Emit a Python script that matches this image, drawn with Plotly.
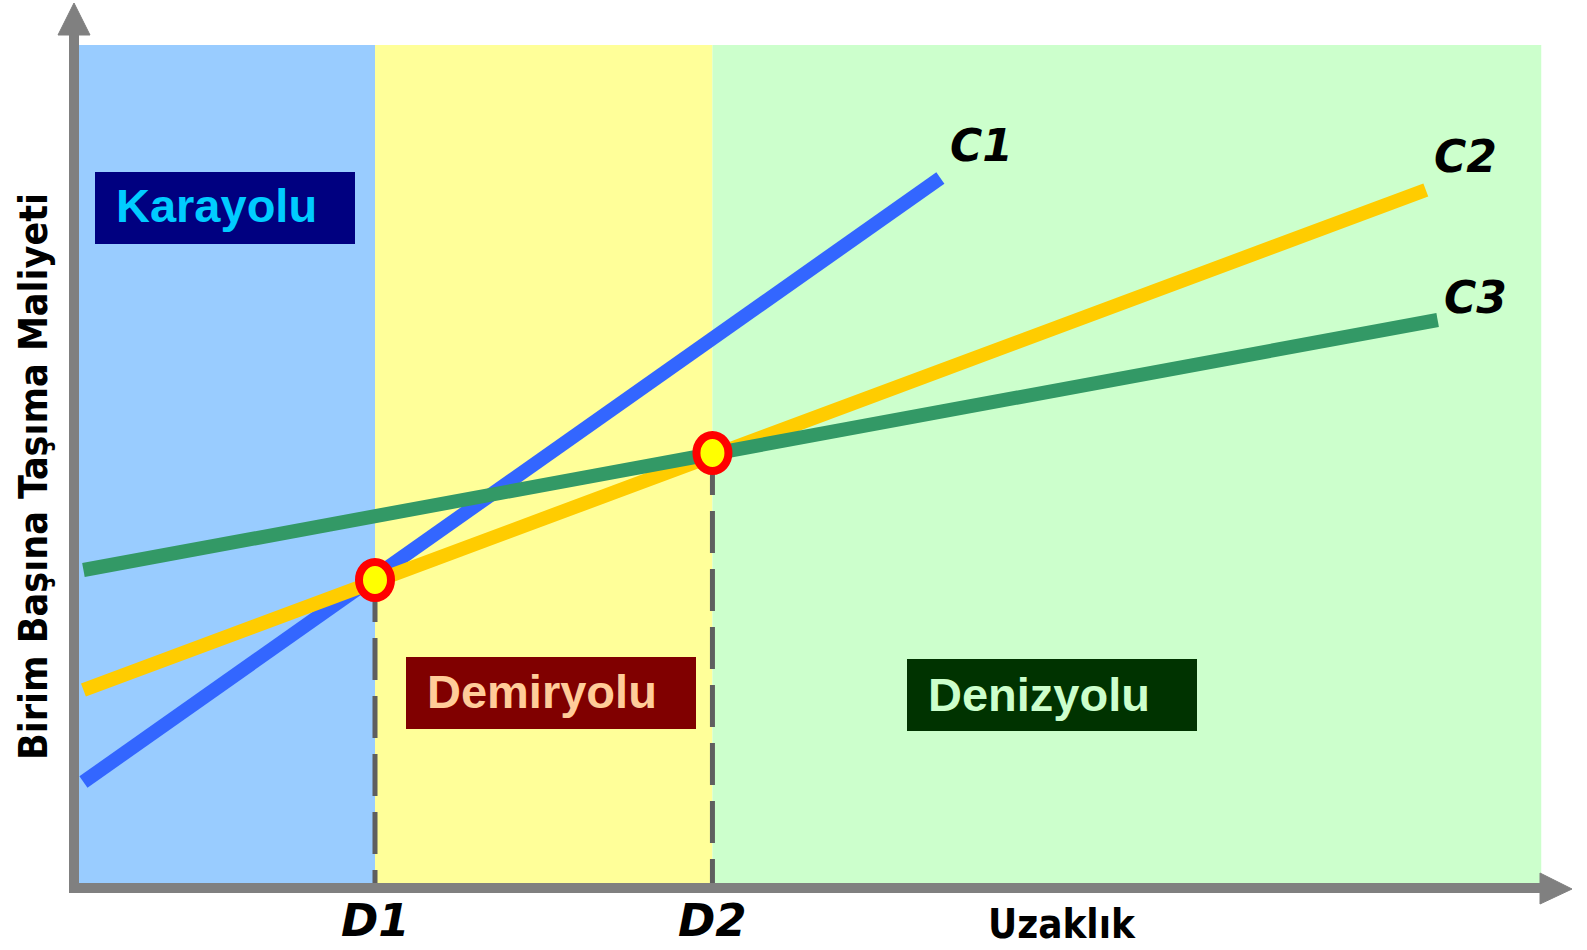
import plotly.graph_objects as go

# values (x = distance, y = unit transport cost)
c1_x = [0.15, 29.1]
c1_y = [10.1, 70.5]
c2_x = [0.15, 45.5]
c2_y = [19.3, 69.3]
c3_x = [0.15, 45.9]
c3_y = [31.3, 56.3]

curve_names = ["C1", "C2", "C3"]
break_names = ["D1", "D2"]
break_x = [10.0, 21.4]
break_y = [30.3, 43.0]

mode_names = ["Karayolu", "Demiryolu", "Denizyolu"]
x_end = 49.4   # right end of shaded area
y_top = 83.8   # top of shaded area

# pixel -> axis helpers for decorations (plot area covers the whole figure)
W, H = 1587, 950
X0, Y0, SX, SY = 79, 883, 29.6, 10.0


def dx(p):
    return (p - X0) / SX


def dy(p):
    return (Y0 - p) / SY


fig = go.Figure()

# regions
region_colors = ["#99CCFF", "#FFFF99", "#CCFFCC"]
edges = [0, break_x[0], break_x[1], x_end]
for i in range(3):
    fig.add_shape(type="rect", xref="x", yref="y", x0=edges[i], x1=edges[i + 1],
                  y0=0, y1=y_top, fillcolor=region_colors[i], line_width=0, layer="below")

# label boxes
boxes = [(95, 172, 355, 244, "#000080"), (406, 657, 696, 729, "#800000"),
         (907, 659, 1197, 731, "#003300")]
for x0, y0, x1, y1, col in boxes:
    fig.add_shape(type="rect", xref="x", yref="y", x0=dx(x0), x1=dx(x1),
                  y0=dy(y1), y1=dy(y0), fillcolor=col, line_width=0, layer="below")

# cost lines
line_colors = ["#3366FF", "#FFCC00", "#339966"]
for xs, ys, col, name in zip([c1_x, c2_x, c3_x], [c1_y, c2_y, c3_y], line_colors, curve_names):
    fig.add_trace(go.Scatter(x=xs, y=ys, mode="lines", name=name,
                             line=dict(color=col, width=14), hoverinfo="skip"))

# dashed drop lines
for bx, by in zip(break_x, break_y):
    fig.add_trace(go.Scatter(x=[bx, bx], y=[by, 0], mode="lines",
                             line=dict(color="#5F5F5F", width=5, dash="42px,16px"),
                             hoverinfo="skip"))

# axes with arrows
gray = "#808080"
axis_path = "M {},{} L {},{} L {},{}".format(dx(74), dy(34), dx(74), dy(888), dx(1541), dy(888))
fig.add_shape(type="path", xref="x", yref="y", path=axis_path,
              line=dict(color=gray, width=10), layer="above")
up_arrow = "M {},{} L {},{} L {},{} Z".format(dx(58), dy(35), dx(90), dy(35), dx(74), dy(3))
right_arrow = "M {},{} L {},{} L {},{} Z".format(dx(1540), dy(873), dx(1540), dy(904), dx(1572), dy(889))
for p in [up_arrow, right_arrow]:
    fig.add_shape(type="path", xref="x", yref="y", path=p, fillcolor=gray,
                  line=dict(color=gray, width=1), layer="above")

# intersection markers
for bx, by in zip(break_x, break_y):
    fig.add_shape(type="circle", xref="x", yref="y", xsizemode="pixel", ysizemode="pixel",
                  xanchor=bx, yanchor=by, x0=-16, x1=16, y0=-18, y1=18,
                  fillcolor="#FFFF00", line=dict(color="#FF0000", width=8), layer="above")

# region labels
label_font = "Liberation Sans, Arial, sans-serif"
label_pos = [(114, 205.5), (425, 691), (926, 694.5)]
label_colors = ["#00CCFF", "#FFCC99", "#CCFFCC"]
for name, (px, py), col in zip(mode_names, label_pos, label_colors):
    fig.add_annotation(x=dx(px), y=dy(py), xref="x", yref="y", text="<b>" + name + "</b>",
                       showarrow=False, xanchor="left", yanchor="middle",
                       font=dict(family=label_font, size=47, color=col))

# curve labels
curve_pos = [(981, 145), (1465, 156), (1475, 297.5)]
for name, (px, py) in zip(curve_names, curve_pos):
    fig.add_annotation(x=dx(px), y=dy(py), xref="x", yref="y", text="<b><i>" + name + "</i></b>",
                       showarrow=False, xanchor="center", yanchor="middle",
                       font=dict(family="DejaVu Sans, Verdana", size=44, color="black"))

# D1 / D2 labels under the axis
for name, bx in zip(break_names, break_x):
    fig.add_annotation(x=bx, y=dy(949), xref="x", yref="y", text="<b><i>" + name + "</i></b>",
                       showarrow=False, xanchor="center", yanchor="bottom",
                       font=dict(family="DejaVu Sans, Verdana", size=45, color="black"))

narrow = "Liberation Sans Narrow, Arial Narrow, DejaVu Sans Condensed, sans-serif"
fig.add_annotation(x=dx(1061.5), y=dy(949), xref="x", yref="y", text="<b>Uzaklık</b>",
                   showarrow=False, xanchor="center", yanchor="bottom",
                   font=dict(family=narrow, size=40, color="black"))
fig.add_annotation(x=dx(33), y=dy(477), xref="x", yref="y",
                   text="<b>Birim Başına Taşıma Maliyeti</b>", textangle=-90,
                   showarrow=False, xanchor="center", yanchor="middle",
                   font=dict(family=narrow, size=39, color="black"))

fig.update_layout(
    width=W, height=H,
    margin=dict(l=0, r=0, t=0, b=0),
    paper_bgcolor="white", plot_bgcolor="white",
    showlegend=False,
    xaxis=dict(visible=False, range=[dx(0), dx(W)], fixedrange=True),
    yaxis=dict(visible=False, range=[dy(H), dy(0)], fixedrange=True),
)

fig.write_html("out.html", config={"displayModeBar": False},
               post_script="document.body.style.margin='0px';")
